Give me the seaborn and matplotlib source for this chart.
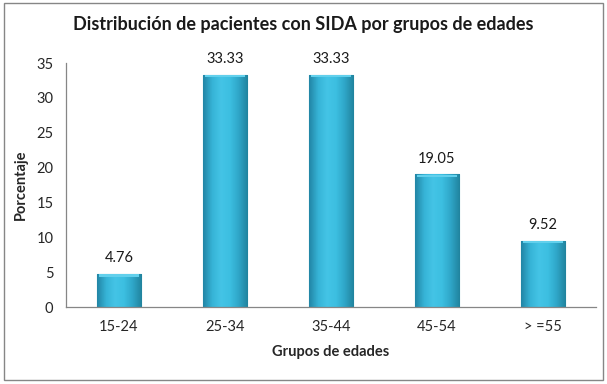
import numpy as np
import pandas as pd
import matplotlib
matplotlib.use('Agg')
import matplotlib.pyplot as plt
from matplotlib.colors import LinearSegmentedColormap
from matplotlib.patches import Rectangle
import seaborn as sns

grupos = ['15-24', '25-34', '35-44', '45-54', '> =55']
porcentaje = [4.76, 33.33, 33.33, 19.05, 9.52]
y_ticks = [0, 5, 10, 15, 20, 25, 30, 35]

titulo = 'Distribución de pacientes con SIDA por grupos de edades'
x_label = 'Grupos de edades'
y_label = 'Porcentaje'

sns.set_style('white')
plt.rcParams['font.family'] = ['Lato', 'DejaVu Sans']

df = pd.DataFrame({'grupo': grupos, 'valor': porcentaje})

fig = plt.figure(figsize=(6.07, 3.84), dpi=100)
ax = fig.add_axes([0.1087, 0.2005, 0.873, 0.6354])

sns.barplot(data=df, x='grupo', y='valor', color='#3bbde0', width=0.42,
            edgecolor='#2a93b3', linewidth=0.8, ax=ax)

# sombreado tipo cilindro en cada barra
cmap = LinearSegmentedColormap.from_list(
    'barra', ['#2286a6', '#36b3d6', '#44c4e6', '#3cbfe1', '#2fa6c8', '#21849f'])
grad = np.linspace(0, 1, 64).reshape(1, -1)
for p in ax.patches:
    x0, y0 = p.get_x(), p.get_y()
    w, h = p.get_width(), p.get_height()
    im = ax.imshow(grad, cmap=cmap, aspect='auto', extent=[x0, x0 + w, y0, y0 + h],
                   zorder=p.get_zorder() + 0.1)
    im.set_clip_path(p)
    # bisel superior
    ax.add_patch(Rectangle((x0 + 0.02, y0 + h - 0.4), w - 0.04, 0.35, facecolor='#62d0ec',
                           edgecolor='none', zorder=p.get_zorder() + 0.2))
ax.set_xlim(-0.5, len(grupos) - 0.5)
ax.set_ylim(0, 35)

for i, v in enumerate(porcentaje):
    ax.annotate(f'{v:.2f}', (i, v), xytext=(0, 6), textcoords='offset points',
                ha='center', va='bottom', fontsize=10.5, color='#1a1a1a')

ax.set_yticks(y_ticks)
ax.tick_params(axis='y', which='major', direction='out', length=5, width=0.8,
               color='#868686', labelsize=10.5, pad=4)
ax.set_xticks(range(len(grupos)))
ax.set_xticklabels(grupos)
ax.set_xticks(np.arange(-0.5, len(grupos)), minor=True)
ax.tick_params(axis='x', which='major', length=0, labelsize=10.5, pad=9)
ax.tick_params(axis='x', which='minor', direction='out', length=5, width=0.8,
               color='#868686')

for s in ['top', 'right']:
    ax.spines[s].set_visible(False)
for s in ['left', 'bottom']:
    ax.spines[s].set_color('#868686')
    ax.spines[s].set_linewidth(0.9)

ax.set_xlabel(x_label, fontsize=10.5, fontweight='bold', labelpad=8)
ax.set_ylabel(y_label, fontsize=10.5, fontweight='bold', labelpad=6)
fig.text(0.5, 0.935, titulo, ha='center', va='center', fontsize=13,
         fontweight='bold', color='#1a1a1a')

fig.patches.append(Rectangle((0.006, 0.01), 0.988, 0.982, transform=fig.transFigure,
                             facecolor='none', edgecolor='#868686', linewidth=1))

fig.savefig('out.png', dpi=100)
